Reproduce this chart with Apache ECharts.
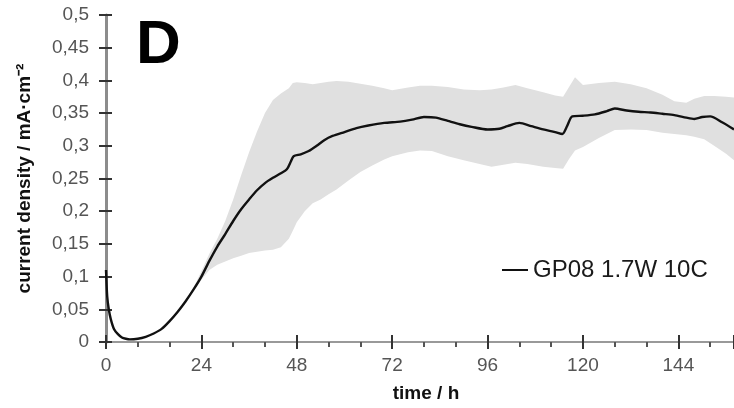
<!DOCTYPE html>
<html>
<head>
<meta charset="utf-8">
<script src="https://cdn.jsdelivr.net/npm/echarts@6/dist/echarts.min.js"></script>
<style>html,body{margin:0;padding:0;background:#fff}#c{width:734px;height:408px}</style>
</head>
<body>
<div id="c"></div>
<script>
const timeH = [0, 0.3, 0.7, 1.2, 2, 3, 4, 5, 6, 8, 10, 12, 14, 16, 18, 20, 22, 24, 26, 28, 30, 32, 34, 36, 38, 40, 42, 44, 45.5, 46.5, 47.2, 49, 51, 53, 55, 57, 60, 63, 66, 70, 74, 77, 80, 83, 86, 89, 92, 96, 99, 101, 104, 107, 110, 113, 114.8, 116, 117.3, 120, 123, 126, 128, 131, 134, 137, 140, 143, 146, 148, 150, 152, 155, 158];
const meanCurrent = [0.11, 0.07, 0.05, 0.035, 0.02, 0.012, 0.007, 0.005, 0.004, 0.005, 0.008, 0.013, 0.02, 0.032, 0.046, 0.062, 0.08, 0.1, 0.124, 0.146, 0.165, 0.185, 0.203, 0.218, 0.232, 0.243, 0.251, 0.258, 0.264, 0.276, 0.284, 0.287, 0.292, 0.3, 0.309, 0.315, 0.321, 0.327, 0.331, 0.335, 0.337, 0.34, 0.344, 0.343, 0.338, 0.333, 0.329, 0.325, 0.326, 0.33, 0.335, 0.33, 0.325, 0.321, 0.318, 0.33, 0.345, 0.346, 0.348, 0.353, 0.357, 0.354, 0.352, 0.351, 0.349, 0.347, 0.343, 0.341, 0.344, 0.345, 0.336, 0.325];

const bandTime = [20, 22, 24, 26, 28, 30, 32, 34, 36, 38, 40, 42, 44, 46, 47, 48, 50, 52, 54, 56, 58, 61, 64, 67, 70, 72, 76, 79, 82, 86, 90, 94, 97, 100, 103, 106, 110, 113, 115, 116.5, 118, 120, 124, 128, 132, 136, 140, 143, 146, 148, 150.5, 153, 156, 158];
const bandUpper = [0.063, 0.083, 0.108, 0.135, 0.158, 0.185, 0.218, 0.255, 0.29, 0.322, 0.35, 0.37, 0.38, 0.388, 0.396, 0.397, 0.396, 0.394, 0.396, 0.398, 0.399, 0.398, 0.395, 0.392, 0.388, 0.385, 0.389, 0.392, 0.392, 0.39, 0.386, 0.385, 0.386, 0.389, 0.393, 0.388, 0.382, 0.377, 0.375, 0.39, 0.405, 0.393, 0.396, 0.398, 0.394, 0.388, 0.378, 0.368, 0.366, 0.372, 0.376, 0.376, 0.375, 0.374];
const bandLower = [0.06, 0.078, 0.095, 0.11, 0.118, 0.123, 0.128, 0.132, 0.136, 0.138, 0.14, 0.141, 0.145, 0.158, 0.17, 0.183, 0.2, 0.212, 0.218, 0.226, 0.233, 0.247, 0.26, 0.27, 0.279, 0.284, 0.29, 0.293, 0.292, 0.284, 0.278, 0.272, 0.268, 0.271, 0.274, 0.272, 0.268, 0.266, 0.265, 0.28, 0.293, 0.298, 0.312, 0.324, 0.325, 0.324, 0.32, 0.318, 0.316, 0.314, 0.31, 0.3, 0.288, 0.278];

const seriesName = 'GP08 1.7W 10C';
const xTitle = 'time / h';
const yTitle = 'current density / mA·cm⁻²';
const panelLetter = 'D';

const FONT = '"Liberation Sans", Arial, sans-serif';
const chart = echarts.init(document.getElementById('c'), null, {renderer: 'canvas'});

const yCommon = {type: 'value', min: 0, max: 0.5, interval: 0.05};
const xCommon = {type: 'value', min: 0, max: 158, interval: 24};

chart.setOption({
  animation: false,
  grid: {left: 106, right: 0, top: 15, bottom: 65},
  legend: {
    data: [{name: seriesName, icon: 'rect'}],
    left: 497, top: 253,
    itemWidth: 26, itemHeight: 2,
    textStyle: {fontFamily: FONT, fontSize: 24, color: '#1a1a1a'}
  },
  xAxis: [
    Object.assign({}, xCommon, {
      position: 'bottom',
      name: xTitle, nameLocation: 'middle', nameGap: 42,
      nameTextStyle: {fontFamily: FONT, fontSize: 19, fontWeight: 'bold', color: '#111', padding: [0, 0, 0, 12]},
      axisLine: {show: true, lineStyle: {color: '#999', width: 2}},
      axisTick: {show: true, inside: false, length: 7, lineStyle: {color: '#333', width: 2}},
      minorTick: {show: true, splitNumber: 3, length: 5, lineStyle: {color: '#555', width: 2}},
      axisLabel: {fontFamily: FONT, fontSize: 19, color: '#555', margin: 14, showMaxLabel: false},
      splitLine: {show: false}
    }),
    Object.assign({}, xCommon, {
      position: 'bottom',
      axisLine: {show: false},
      axisTick: {show: true, inside: true, length: 7, lineStyle: {color: '#333', width: 2}},
      axisLabel: {show: false},
      splitLine: {show: false}
    })
  ],
  yAxis: [
    Object.assign({}, yCommon, {
      position: 'left',
      name: yTitle, nameLocation: 'middle', nameGap: 72,
      nameTextStyle: {fontFamily: FONT, fontSize: 19, fontWeight: 'bold', color: '#111'},
      axisLine: {show: true, lineStyle: {color: '#8c8c8c', width: 3}},
      axisTick: {show: true, inside: false, length: 7, lineStyle: {color: '#333', width: 2}},
      axisLabel: {fontFamily: FONT, fontSize: 19, color: '#555', margin: 17,
        formatter: v => String(+v.toFixed(2)).replace('.', ',')},
      splitLine: {show: false}
    }),
    Object.assign({}, yCommon, {
      position: 'left',
      axisLine: {show: false},
      axisTick: {show: true, inside: true, length: 6, lineStyle: {color: '#333', width: 2}},
      axisLabel: {show: false},
      splitLine: {show: false}
    })
  ],
  graphic: [{
    type: 'text', left: 136, top: 15,
    style: {text: panelLetter, fontFamily: FONT, fontSize: 62, fontWeight: 'bold', fill: '#000'}
  }],
  series: [
    {
      name: 'band', type: 'custom', silent: true, z: 1,
      xAxisIndex: 0, yAxisIndex: 0,
      data: bandTime.map((t, i) => [t, bandLower[i], bandUpper[i]]),
      encode: {x: 0, y: [1, 2]},
      renderItem: function (params, api) {
        if (params.dataIndex !== 0) return null;
        const pts = [];
        for (let i = 0; i < bandTime.length; i++) pts.push(api.coord([bandTime[i], bandUpper[i]]));
        for (let i = bandTime.length - 1; i >= 0; i--) pts.push(api.coord([bandTime[i], bandLower[i]]));
        return {type: 'polygon', shape: {points: pts}, style: {fill: '#e0e0e0', stroke: null}};
      }
    },
    {
      name: seriesName, type: 'line', symbol: 'none', smooth: 0.25,
      xAxisIndex: 0, yAxisIndex: 0,
      data: timeH.map((t, i) => [t, meanCurrent[i]]),
      lineStyle: {color: '#111', width: 2.4}, itemStyle: {color: '#111'}, z: 3
    }
  ]
});
</script>
</body>
</html>
